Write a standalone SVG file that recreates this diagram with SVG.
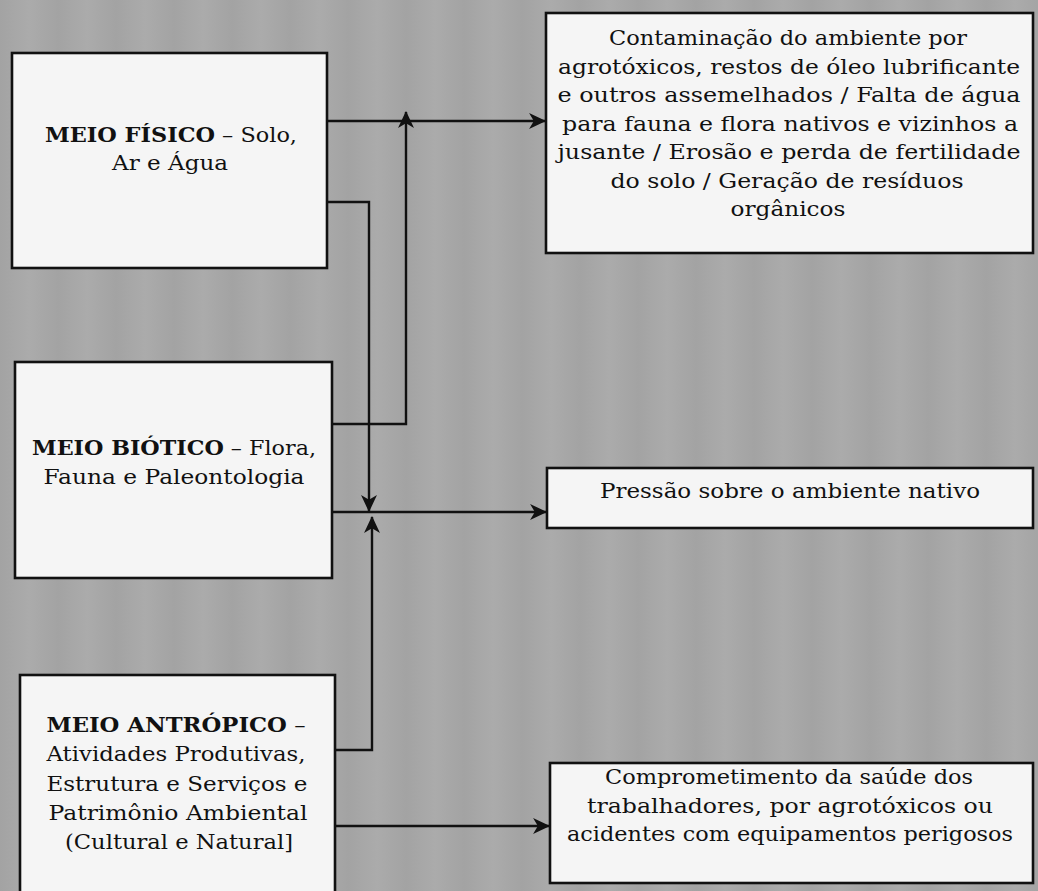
<svg xmlns="http://www.w3.org/2000/svg" width="1038" height="891" viewBox="0 0 1038 891">
  <defs>
    <linearGradient id="bg" x1="0" y1="0" x2="58" y2="0" gradientUnits="userSpaceOnUse" spreadMethod="repeat">
      <stop offset="0" stop-color="#a3a3a3"/>
      <stop offset="0.5" stop-color="#ababab"/>
      <stop offset="1" stop-color="#a3a3a3"/>
    </linearGradient>
    <marker id="ah" viewBox="0 0 16 16" markerWidth="17" markerHeight="17" refX="15" refY="8" orient="auto" markerUnits="userSpaceOnUse">
      <path d="M16,8 L0,0.5 L4.5,8 L0,15.5 Z" fill="#111"/>
    </marker>
    <style>
      .box { fill: #f5f5f5; stroke: #111; stroke-width: 2.6; }
      .t { font-family: "DejaVu Serif", "Liberation Serif", serif; font-size: 20px; fill: #111; text-anchor: middle; }
      .b { font-weight: bold; }
      .c { fill: none; stroke: #111; stroke-width: 2.4; }
    </style>
  </defs>
  <rect x="0" y="0" width="1038" height="891" fill="url(#bg)"/>

  <g id="meio-fisico">
    <rect class="box" x="12" y="53" width="315" height="215"/>
    <text class="t" x="171" y="142" textLength="252" lengthAdjust="spacingAndGlyphs"><tspan class="b">MEIO FÍSICO</tspan> – Solo,</text>
    <text class="t" x="170" y="170" textLength="116" lengthAdjust="spacingAndGlyphs">Ar e Água</text>
  </g>

  <g id="meio-biotico">
    <rect class="box" x="15" y="362" width="317" height="216"/>
    <text class="t" x="174" y="455" textLength="284" lengthAdjust="spacingAndGlyphs"><tspan class="b">MEIO BIÓTICO</tspan> – Flora,</text>
    <text class="t" x="174" y="484" textLength="261" lengthAdjust="spacingAndGlyphs">Fauna e Paleontologia</text>
  </g>

  <g id="meio-antropico">
    <rect class="box" x="20" y="675" width="315" height="240"/>
    <text class="t" x="176" y="732" textLength="259" lengthAdjust="spacingAndGlyphs"><tspan class="b">MEIO ANTRÓPICO</tspan> –</text>
    <text class="t" x="176" y="761" textLength="259" lengthAdjust="spacingAndGlyphs">Atividades Produtivas,</text>
    <text class="t" x="177" y="791" textLength="261" lengthAdjust="spacingAndGlyphs">Estrutura e Serviços e</text>
    <text class="t" x="178" y="820" textLength="259" lengthAdjust="spacingAndGlyphs">Patrimônio Ambiental</text>
    <text class="t" x="179" y="849" textLength="228" lengthAdjust="spacingAndGlyphs">(Cultural e Natural]</text>
  </g>

  <g id="contaminacao">
    <rect class="box" x="546" y="13" width="487" height="240"/>
    <text class="t" x="788" y="45" textLength="358" lengthAdjust="spacingAndGlyphs">Contaminação do ambiente por</text>
    <text class="t" x="789" y="73.5" textLength="462" lengthAdjust="spacingAndGlyphs">agrotóxicos, restos de óleo lubrificante</text>
    <text class="t" x="789" y="102" textLength="463" lengthAdjust="spacingAndGlyphs">e outros assemelhados / Falta de água</text>
    <text class="t" x="790" y="130.5" textLength="456" lengthAdjust="spacingAndGlyphs">para fauna e flora nativos e vizinhos a</text>
    <text class="t" x="789" y="159" textLength="463" lengthAdjust="spacingAndGlyphs">jusante / Erosão e perda de fertilidade</text>
    <text class="t" x="787" y="187.5" textLength="353" lengthAdjust="spacingAndGlyphs">do solo / Geração de resíduos</text>
    <text class="t" x="788" y="216" textLength="115" lengthAdjust="spacingAndGlyphs">orgânicos</text>
  </g>

  <g id="pressao">
    <rect class="box" x="547" y="468" width="486" height="60"/>
    <text class="t" x="790" y="498" textLength="380" lengthAdjust="spacingAndGlyphs">Pressão sobre o ambiente nativo</text>
  </g>

  <g id="comprometimento">
    <rect class="box" x="550" y="763" width="483" height="120"/>
    <text class="t" x="789" y="784" textLength="368" lengthAdjust="spacingAndGlyphs">Comprometimento da saúde dos</text>
    <text class="t" x="790" y="813" textLength="406" lengthAdjust="spacingAndGlyphs">trabalhadores, por agrotóxicos ou</text>
    <text class="t" x="790" y="841" textLength="446" lengthAdjust="spacingAndGlyphs">acidentes com equipamentos perigosos</text>
  </g>

  <g id="connectors">
    <path class="c" d="M327,121 H545" marker-end="url(#ah)"/>
    <path class="c" d="M327,202 H369 V511" marker-end="url(#ah)"/>
    <path class="c" d="M332,424 H406 V112" marker-end="url(#ah)"/>
    <path class="c" d="M332,512 H546" marker-end="url(#ah)"/>
    <path class="c" d="M335,750 H372 V517" marker-end="url(#ah)"/>
    <path class="c" d="M335,826 H549" marker-end="url(#ah)"/>
  </g>
</svg>
